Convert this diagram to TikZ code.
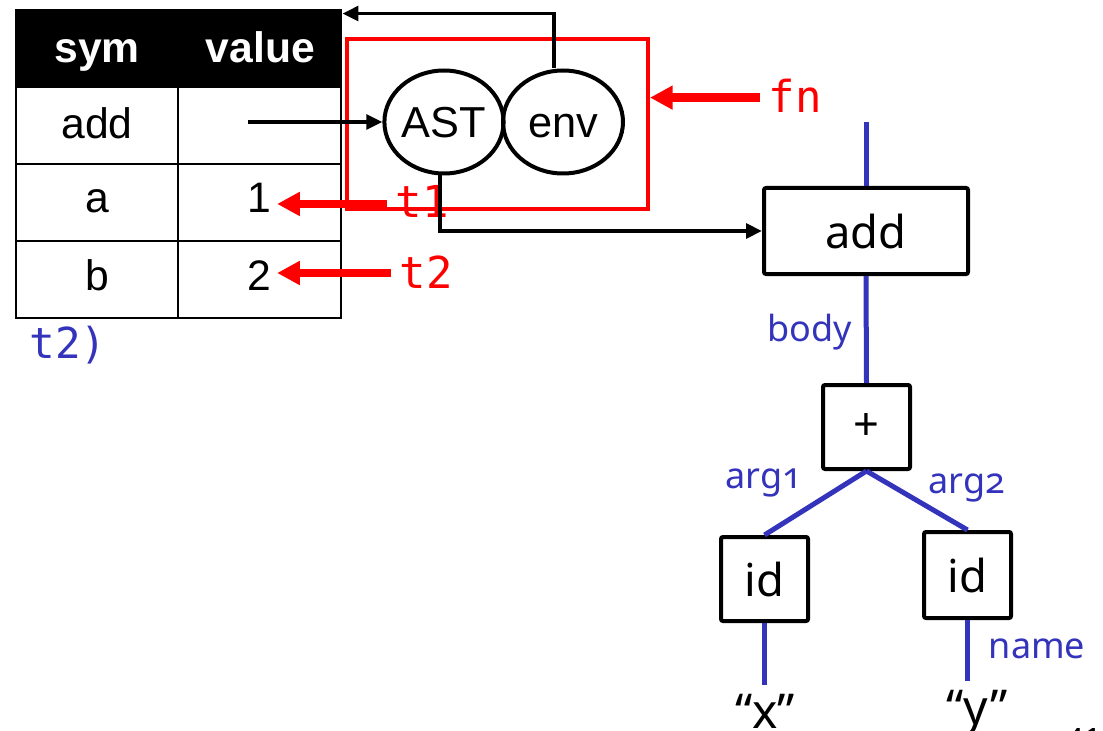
\documentclass[tikz,border=0pt]{standalone}
\usepackage{fontspec}
\setmainfont{Liberation Sans}
\newfontfamily\treefont[Numbers=OldStyle]{Noto Sans}
\newfontfamily\codefont{DejaVu Sans Mono}
\usetikzlibrary{arrows.meta,shapes.geometric,calc}
\definecolor{treeblue}{RGB}{51,51,187}
\definecolor{codered}{RGB}{255,0,0}
\begin{document}
\begin{tikzpicture}[x=0.75pt,y=-0.75pt,
  cellbox/.style={draw=black,line width=2.2pt,inner sep=0pt,minimum height=57.75pt},
  headbox/.style={cellbox,fill=black},
  tabtxt/.style={inner sep=0pt,anchor=base,font=\fontsize{32}{38}\selectfont},
  valtxt/.style={tabtxt,inner xsep=4.5pt},
  ovalbox/.style={ellipse,draw=black,line width=3pt,inner sep=0pt,minimum height=77.25pt,
     text height=23pt,text depth=0pt,font=\fontsize{32.5}{38}\selectfont},
  blkarrow/.style={draw=black,line width=2.8pt,-{Triangle[length=12pt,width=11pt]}},
  redarrow/.style={draw=codered,line width=6.5pt,-{Triangle[length=17pt,width=17pt]}},
  codetxt/.style={text=codered,inner ysep=0pt,inner xsep=6pt,anchor=base,font=\codefont\fontsize{33}{39}\selectfont},
  treebox/.style={draw=black,line width=3pt,rounded corners=1.5pt,inner sep=0pt,
     font=\treefont\fontsize{34}{40}\selectfont},
  treeedge/.style={draw=treeblue,line width=3.75pt},
  edgelbl/.style={text=treeblue,inner sep=0pt,anchor=base,font=\treefont\fontsize{27}{32}\selectfont},
  leaftxt/.style={inner xsep=0pt,inner ysep=6.5pt,anchor=base,font=\treefont\fontsize{36}{42}\selectfont}
]
\useasboundingbox (0,0) rectangle (1103,731);
\clip (0,0) rectangle (1103,731);

% ---------- table ----------
\node[headbox,minimum width=121.5pt] (symH) at (97,48.5) {};
\node[headbox,minimum width=122.25pt] (valH) at (259.5,48.5) {};
\node[cellbox,minimum width=121.5pt] (s1) at (97,125.5) {};
\node[cellbox,minimum width=122.25pt] (v1) at (259.5,125.5) {};
\node[cellbox,minimum width=121.5pt] (s2) at (97,202.5) {};
\node[cellbox,minimum width=122.25pt] (v2) at (259.5,202.5) {};
\node[cellbox,minimum width=121.5pt] (s3) at (97,279.5) {};
\node[cellbox,minimum width=122.25pt] (v3) at (259.5,279.5) {};

\node[tabtxt,text=white] (tsym) at (97,63) {\bfseries sym};
\node[tabtxt,text=white] (tval) at (260.5,63) {\bfseries value};
\node[tabtxt] (tadd) at (97,139) {add};
\node[tabtxt] (ta) at (97,213) {a};
\node[valtxt] (one) at (259,213) {1};
\node[tabtxt] (tb) at (97,290) {b};
\node[valtxt] (two) at (259,290) {2};

\node[text=treeblue,inner sep=0pt,anchor=base,font=\codefont\fontsize{32}{38}\selectfont] (tt2) at (68,358) {t2)};

% ---------- closure ----------
\node[draw=codered,line width=3pt,inner sep=0pt,minimum width=225.75pt,minimum height=127.5pt] (clo) at (497.5,124) {};
\node[ovalbox,minimum width=88.5pt] (ast) at (444,122) {AST};
\node[ovalbox,minimum width=90pt] (env) at (563,122) {env};

\coordinate (vstart) at (248,122);
\draw[blkarrow] (vstart) -- (ast.west);
\draw[blkarrow] ([xshift=-6.75pt]env.north) |- ([yshift=-3.75pt]valH.north east);

% ---------- red labels ----------
\node[codetxt] (fn) at (795,113) {fn};
\node[codetxt] (t1) at (422,218) {t1};
\node[codetxt] (t2) at (426,288) {t2};
\draw[redarrow] ([yshift=-1pt]fn.west) -- ([yshift=-1pt]fn.west -| clo.east);
\draw[redarrow] ([yshift=-1.5pt]t1.west) -- ([yshift=-1.5pt]t1.west -| one.east);
\draw[redarrow] ([yshift=-1pt]t2.west) -- ([yshift=-1pt]t2.west -| two.east);

% ---------- tree ----------
\node[treebox,minimum width=153pt,minimum height=64.5pt] (addbox) at (866,231) {add};
\node[treebox,minimum width=65.25pt,minimum height=63pt] (plus) at (866.5,427) {+};
\node[treebox,minimum width=65.25pt,minimum height=63pt] (idl) at (764.5,579) {id};
\node[treebox,minimum width=65.25pt,minimum height=64.5pt] (idr) at (967.5,575) {id};

\draw[blkarrow] ([xshift=-3pt]ast.south) |- (addbox.west);

\coordinate (treetop) at (866,122);
\draw[treeedge] (treetop) -- (addbox.north);
\draw[treeedge] (addbox.south) -- (plus.north);
\draw[treeedge] (plus.south) -- (idl.north);
\draw[treeedge] (plus.south) -- (idr.north);

\node[leaftxt] (xq) at (765,728) {“x”};
\node[leaftxt] (yq) at (977,724) {“y”};
\draw[treeedge] (idl.south) -- (idl.south |- xq.north);
\draw[treeedge] (idr.south) -- (idr.south |- yq.north);

\node[edgelbl] (lbody) at (810,341) {body};
\node[edgelbl] (larg1) at (764,488) {arg1};
\node[edgelbl] (larg2) at (967,493) {arg2};
\node[edgelbl] (lname) at (1037,658) {name};

\node[inner sep=0pt,anchor=base,font=\fontsize{24}{28}\selectfont] (pagenum) at (1084,750) {41};
\end{tikzpicture}
\end{document}
